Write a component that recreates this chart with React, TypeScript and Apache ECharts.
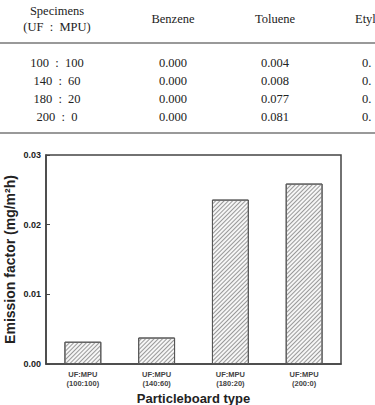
import React, { useEffect, useRef } from "react";
import * as echarts from "echarts";

const tableHeaders = ["Benzene", "Toluene", "Etyl"];
const tableSpecimens = ["100  :  100", "140  :  60", "180  :  20", "200  :  0"];
const benzene = ["0.000", "0.000", "0.000", "0.000"];
const toluene = ["0.004", "0.008", "0.077", "0.081"];
const etyl = ["0.", "0.", "0.", "0."];

const categories = ["UF:MPU\n(100:100)", "UF:MPU\n(140:60)", "UF:MPU\n(180:20)", "UF:MPU\n(200:0)"];
const emission = [0.0032, 0.0038, 0.0236, 0.0259];
const yTicks = ["0.00", "0.01", "0.02", "0.03"];

export default function App() {
  const ref = useRef<HTMLDivElement>(null);
  useEffect(() => {
    if (!ref.current) return;
    const chart = echarts.init(ref.current, undefined, { renderer: "svg" });
    const serif = "Liberation Serif";
    const sans = "Liberation Sans";
    const rowY = [63, 81, 99, 117];
    const tText = (x: number, y: number, text: string, align: string = "center") => ({
      type: "text",
      x,
      y,
      style: {
        text,
        fill: "#222",
        fontFamily: serif,
        fontSize: 12.5,
        align,
        verticalAlign: "middle",
      },
    });
    const graphics: any[] = [
      tText(57, 11, "Specimens"),
      tText(57, 27, "(UF  :  MPU)"),
      tText(173, 19, tableHeaders[0]),
      tText(275, 19, tableHeaders[1]),
      tText(355, 19, tableHeaders[2], "left"),
      { type: "line", shape: { x1: 0, y1: 43, x2: 375, y2: 43 }, style: { stroke: "#777", lineWidth: 1.5 } },
      { type: "line", shape: { x1: 0, y1: 133, x2: 375, y2: 133 }, style: { stroke: "#777", lineWidth: 1.5 } },
    ];
    rowY.forEach((y, i) => {
      graphics.push(tText(57, y, tableSpecimens[i]));
      graphics.push(tText(173, y, benzene[i]));
      graphics.push(tText(275, y, toluene[i]));
      graphics.push(tText(362, y, etyl[i], "left"));
    });
    chart.setOption({
      animation: false,
      backgroundColor: "#fff",
      grid: {
        left: 46,
        right: 34,
        top: 155,
        bottom: 41,
        outerBoundsMode: "none",
        containLabel: false,
        show: true,
        borderColor: "#444",
        borderWidth: 1.5,
        backgroundColor: "transparent",
      },
      graphic: graphics,
      xAxis: {
        type: "category",
        data: categories,
        name: "Particleboard type",
        nameLocation: "middle",
        nameMoveOverlap: false,
        nameGap: 28,
        nameTextStyle: { fontFamily: sans, fontWeight: "bold", fontSize: 13, color: "#222", verticalAlign: "top" },
        axisLine: { lineStyle: { color: "#444", width: 1.5 } },
        axisTick: { show: true, inside: true, alignWithLabel: true, length: 4, lineStyle: { color: "#444" } },
        axisLabel: {
          fontFamily: sans,
          fontWeight: "bold",
          fontSize: 7.5,
          color: "#444",
          lineHeight: 9,
          margin: 6,
        },
      },
      yAxis: {
        type: "value",
        min: 0,
        max: 0.03,
        interval: 0.01,
        name: "Emission factor (mg/m²h)",
        nameLocation: "middle",
        nameMoveOverlap: false,
        nameGap: 29,
        nameRotate: 90,
        nameTextStyle: { fontFamily: sans, fontWeight: "bold", fontSize: 14, color: "#222" },
        axisLine: { show: true, lineStyle: { color: "#444", width: 1.5 } },
        axisTick: { show: true, inside: true, length: 4, lineStyle: { color: "#444" } },
        splitLine: { show: false },
        axisLabel: {
          fontFamily: sans,
          fontWeight: "bold",
          fontSize: 9,
          color: "#222",
          margin: 5,
          formatter: (v: number) => yTicks[Math.round(v * 100)] ?? String(v),
        },
      },
      series: [
        {
          type: "bar",
          data: emission,
          barWidth: "50%",
          itemStyle: {
            color: "#f6f6f6",
            borderColor: "#555",
            borderWidth: 1,
            decal: {
              symbol: "rect",
              symbolSize: 1,
              color: "#999",
              dashArrayX: [1, 0],
              dashArrayY: [1, 2],
              rotation: -Math.PI / 4,
            },
          },
        },
      ],
    });
    return () => chart.dispose();
  }, []);
  return <div ref={ref} style={{ position: "fixed", left: 0, top: 0, width: 375, height: 405 }} />;
}
